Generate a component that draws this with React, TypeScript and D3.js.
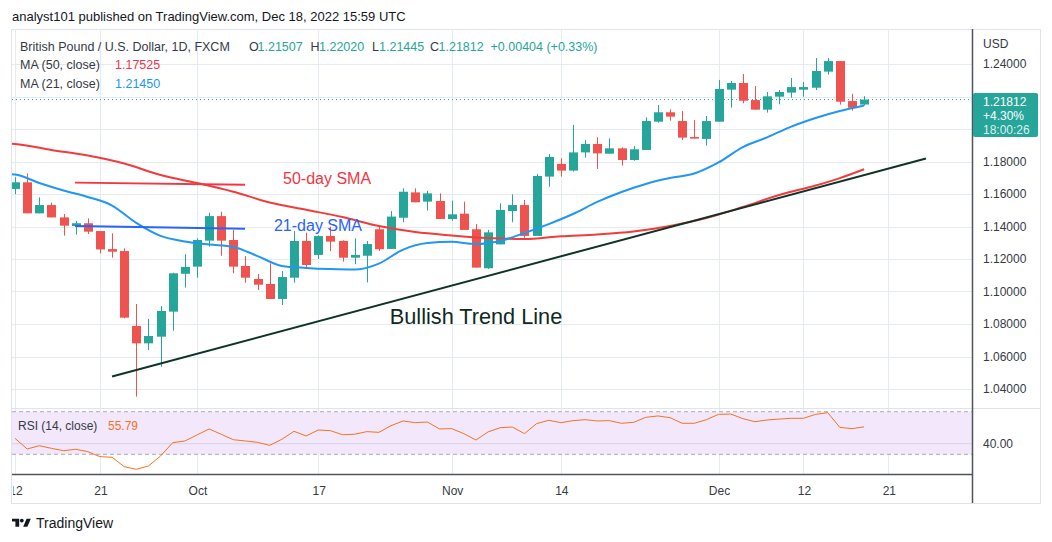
import * as d3 from "d3";

const W = 1052;
const H = 542;

// daily GBP/USD bars, Sep 12 .. Dec 19 (index 0..70)
const opens = [
  1.1631, 1.1672, 1.1481, 1.1532, 1.1456, 1.1403, 1.142, 1.1372, 1.1261, 1.1249,
  1.0788, 1.0681, 1.0722, 1.0876, 1.1109, 1.1153, 1.1313, 1.1464, 1.1317, 1.1157,
  1.1077, 1.1046, 1.0954, 1.1085, 1.1311, 1.1225, 1.1342, 1.1311, 1.1208, 1.122,
  1.1383, 1.1262, 1.1454, 1.161, 1.1553, 1.1557, 1.1446, 1.1479, 1.1383, 1.1143,
  1.129, 1.1495, 1.1532, 1.1342, 1.1707, 1.1785, 1.1744, 1.1856, 1.1908, 1.1848,
  1.1881, 1.1809, 1.1871, 1.2045, 1.2103, 1.2049, 1.1951, 1.1939, 1.2045, 1.2242,
  1.2283, 1.2178, 1.2119, 1.2199, 1.2224, 1.2242, 1.2254, 1.2353, 1.2418, 1.2172,
  1.21507,
];
const highs = [
  1.1703, 1.1727, 1.1579, 1.1547, 1.1477, 1.1434, 1.145, 1.1372, 1.1358, 1.1266,
  1.0923, 1.0831, 1.0911, 1.1115, 1.1229, 1.1327, 1.1485, 1.1491, 1.1378, 1.1218,
  1.1108, 1.1173, 1.1126, 1.1372, 1.1362, 1.1345, 1.1399, 1.1315, 1.1327, 1.1311,
  1.1403, 1.1495, 1.1635, 1.1635, 1.1619, 1.1604, 1.1559, 1.1553, 1.1415, 1.1379,
  1.1543, 1.1598, 1.1563, 1.1723, 1.1846, 1.182, 1.2025, 1.1932, 1.1949, 1.1943,
  1.1887, 1.1895, 1.2072, 1.2148, 1.2121, 1.2111, 1.2055, 1.208, 1.2302, 1.2295,
  1.2338, 1.2265, 1.2228, 1.224, 1.2314, 1.2289, 1.2437, 1.2437, 1.2418, 1.2217,
  1.2202,
];
const lows = [
  1.1598, 1.1481, 1.1481, 1.1456, 1.1344, 1.135, 1.1354, 1.1235, 1.1208, 1.0835,
  1.0353, 1.064, 1.0537, 1.0759, 1.1024, 1.1085, 1.1276, 1.122, 1.1112, 1.1054,
  1.1009, 1.0954, 1.0917, 1.1054, 1.1147, 1.12, 1.1249, 1.1184, 1.1168, 1.1056,
  1.125, 1.1262, 1.1426, 1.1549, 1.1498, 1.1446, 1.1436, 1.1379, 1.1147, 1.1139,
  1.129, 1.1426, 1.1331, 1.1342, 1.1645, 1.1707, 1.1738, 1.1824, 1.1754, 1.1848,
  1.1775, 1.1805, 1.1871, 1.2039, 1.2051, 1.1932, 1.1941, 1.1898, 1.2045, 1.2131,
  1.2158, 1.2119, 1.2101, 1.2152, 1.2193, 1.2199, 1.224, 1.2334, 1.215, 1.2113,
  1.21445,
];
const closes = [
  1.1672, 1.1481, 1.1532, 1.1456, 1.1405, 1.142, 1.1368, 1.1259, 1.1245, 1.0839,
  1.0681, 1.0726, 1.088, 1.1112, 1.1151, 1.1317, 1.1464, 1.1313, 1.1153, 1.1085,
  1.1042, 1.0954, 1.1089, 1.1311, 1.1163, 1.1341, 1.1307, 1.1208, 1.1225, 1.1292,
  1.126, 1.1461, 1.1614, 1.1549, 1.1604, 1.1446, 1.1475, 1.1379, 1.1147, 1.1364,
  1.1502, 1.1532, 1.1342, 1.1711, 1.1828, 1.1744, 1.1856, 1.1908, 1.185, 1.1881,
  1.1809, 1.1875, 1.2049, 1.2103, 1.2076, 1.1947, 1.1941, 1.2049, 1.2246, 1.2283,
  1.2174, 1.2119, 1.2201, 1.2228, 1.2258, 1.2258, 1.2357, 1.2418, 1.2168, 1.2131,
  1.21812,
];

// moving averages: [bar index, value]
const ma21: [number, number][] = [
  [-0.3, 1.1722], [0, 1.172], [2, 1.1668], [4, 1.1622], [6, 1.1582], [8, 1.1529],
  [10, 1.1422], [12, 1.1342], [14, 1.1308], [16, 1.1289], [18, 1.1274], [20, 1.1218],
  [22, 1.1157], [24, 1.1145], [26, 1.1138], [28, 1.1135], [30, 1.1172], [32, 1.1258],
  [34, 1.1298], [36, 1.1306], [38, 1.1292], [40, 1.1311], [42, 1.136], [44, 1.1415],
  [46, 1.1477], [48, 1.1551], [50, 1.1612], [52, 1.1662], [54, 1.1698], [56, 1.1726],
  [58, 1.1794], [60, 1.1889], [62, 1.1948], [64, 1.2015], [66, 1.2068], [68, 1.2111],
  [70, 1.2145],
];
const ma50: [number, number][] = [
  [-0.3, 1.191], [0, 1.1908], [3, 1.1871], [6, 1.1837], [9, 1.1788], [12, 1.1717],
  [15, 1.1668], [18, 1.1614], [21, 1.1548], [24, 1.1503], [27, 1.1458], [30, 1.1403],
  [33, 1.1366], [36, 1.1345], [39, 1.1329], [42, 1.1323], [45, 1.134], [48, 1.1351],
  [51, 1.1369], [54, 1.1403], [57, 1.1452], [60, 1.152], [63, 1.1594], [66, 1.1652],
  [68, 1.1698], [70, 1.17525],
];

const rsi = [
  45.0, 35.0, 38.1, 35.6, 33.4, 34.7, 32.5, 27.8, 27.2, 18.4,
  15.9, 19.0, 28.4, 40.9, 42.5, 48.1, 53.8, 48.8, 43.7, 42.5,
  41.2, 38.4, 44.1, 51.6, 47.2, 52.8, 52.2, 48.4, 48.8, 51.3,
  50.6, 56.9, 61.3, 59.7, 60.3, 53.8, 54.1, 49.4, 43.4, 51.0,
  55.0, 55.6, 49.4, 58.8, 61.9, 59.7, 61.6, 62.5, 61.3, 61.6,
  59.1, 60.0, 64.7, 66.0, 64.4, 59.1, 59.1, 62.5, 67.5, 67.8,
  63.5, 60.6, 62.2, 63.1, 63.8, 63.8, 67.5, 69.1, 55.3, 54.1,
  55.79,
];

const priceTicks = [1.04, 1.06, 1.08, 1.1, 1.12, 1.14, 1.16, 1.18, 1.2, 1.22, 1.24];
const timeTicks: [number, string][] = [
  [0, "12"], [7, "21"], [15, "Oct"], [25, "17"], [36, "Nov"],
  [45, "14"], [58, "Dec"], [65, "12"], [72, "21"],
];

// hand drawn annotations
const trendLine: [number, number][] = [[8, 1.0477], [75.1, 1.1818]];
const sma50Mark: [number, number][] = [[4.95, 1.167], [18.96, 1.1657]];
const sma21Mark: [number, number][] = [[4.95, 1.1403], [18.96, 1.1386]];

const FONT = "'Liberation Sans', Arial, sans-serif";
const UP = "#26a69a";
const DOWN = "#ef5350";
const TXT = "#363a45";

export default function App() {
  const L = 12, R = 972, TOP = 29, PANE = 408, AXIS = 474, BOTTOM = 503;
  const x = d3.scaleLinear().domain([0, 70]).range([15, 864.1]);
  const y = d3.scaleLinear().domain([1.04, 1.24]).range([389, 64]);
  const yr = d3.scaleLinear().domain([30, 70]).range([454.3, 411.7]);

  const maLine = d3
    .line<[number, number]>()
    .x((d) => x(d[0]))
    .y((d) => y(d[1]))
    .curve(d3.curveMonotoneX);
  const rsiLine = d3
    .line<number>()
    .x((_d, i) => x(i))
    .y((d) => yr(d));
  const straight = d3
    .line<[number, number]>()
    .x((d) => x(d[0]))
    .y((d) => y(d[1]));

  const last = closes[closes.length - 1];
  const bw = 9;
  // price label box hides the axis labels behind it
  const boxTop = 93, boxBottom = 137;
  const shownTicks = priceTicks.filter((p) => y(p) < boxTop - 7 || y(p) > boxBottom + 7);

  return (
    <svg
      width={W}
      height={H}
      style={{ position: "absolute", left: 0, top: 0, background: "#fff" }}
      fontFamily={FONT}
    >
      <defs>
        <clipPath id="main">
          <rect x={L} y={TOP} width={R - L} height={PANE - TOP} />
        </clipPath>
        <clipPath id="rsi">
          <rect x={L} y={PANE} width={R - L} height={AXIS - PANE} />
        </clipPath>
        <clipPath id="time">
          <rect x={L + 1} y={AXIS} width={R - L} height={BOTTOM - AXIS} />
        </clipPath>
      </defs>

      <text x={12} y={21} fontSize={13} fill="#131722">
        analyst101 published on TradingView.com, Dec 18, 2022 15:59 UTC
      </text>

      <rect x={11.5} y={TOP + 0.5} width={1029} height={BOTTOM - TOP} fill="none" stroke="#e0e3eb" />

      {/* grid */}
      <g stroke="#e6ebf2" strokeWidth={1}>
        {timeTicks.map(([i]) => (
          <line key={"v" + i} x1={Math.round(x(i)) + 0.5} x2={Math.round(x(i)) + 0.5} y1={TOP} y2={AXIS} />
        ))}
        {priceTicks.map((p) => (
          <line key={"h" + p} x1={L} x2={R} y1={Math.round(y(p)) + 0.5} y2={Math.round(y(p)) + 0.5} />
        ))}
      </g>

      {/* RSI pane */}
      <g clipPath="url(#rsi)">
        <rect x={L} y={yr(70)} width={R - L} height={yr(30) - yr(70)} fill="#f2e7fb" />
        <line x1={L} x2={R} y1={yr(40)} y2={yr(40)} stroke="#d8d3e6" />
        <line x1={L} x2={R} y1={yr(70)} y2={yr(70)} stroke="#9598a1" strokeDasharray="4,3" strokeWidth={0.8} />
        <line x1={L} x2={R} y1={yr(30)} y2={yr(30)} stroke="#9598a1" strokeDasharray="4,3" strokeWidth={0.8} />
        <path d={rsiLine(rsi) || ""} fill="none" stroke="#f7731e" strokeWidth={1} />
      </g>
      <text x={18} y={426} fontSize={12} fill={TXT} dominantBaseline="central">
        RSI (14, close)
      </text>
      <text x={108} y={426} fontSize={12} fill="#f7731e" dominantBaseline="central">
        55.79
      </text>

      {/* main pane */}
      <g clipPath="url(#main)">
        <line x1={L} x2={R} y1={y(last)} y2={y(last)} stroke={UP} strokeDasharray="1,3" />
        {closes.map((c, i) => {
          const o = opens[i];
          const col = c >= o ? UP : DOWN;
          const cx = Math.round(x(i)) + 0.5;
          const top = y(Math.max(o, c));
          const h = Math.max(1, Math.abs(y(o) - y(c)));
          return (
            <g key={i}>
              <line x1={cx} x2={cx} y1={y(highs[i])} y2={y(lows[i])} stroke={col} />
              <rect x={cx - bw / 2} y={top} width={bw} height={h} fill={col} />
            </g>
          );
        })}
        <path d={maLine(ma50) || ""} fill="none" stroke="#f23b3b" strokeWidth={2} />
        <path d={maLine(ma21) || ""} fill="none" stroke="#2196f3" strokeWidth={2} />
        <path d={straight(sma50Mark) || ""} stroke="#f23645" strokeWidth={2} />
        <path d={straight(sma21Mark) || ""} stroke="#2962ff" strokeWidth={2} />
        <path d={straight(trendLine) || ""} stroke="#0e3327" strokeWidth={2} />
      </g>

      <text x={x(22.1)} y={y(1.1698)} fontSize={16} fill="#f23645" dominantBaseline="central">
        50-day SMA
      </text>
      <text x={x(21.35)} y={y(1.1409)} fontSize={16} fill="#2962ff" dominantBaseline="central">
        21-day SMA
      </text>
      <text x={x(30.9)} y={y(1.0849)} fontSize={21.7} fill="#0e2a20" dominantBaseline="central">
        Bullish Trend Line
      </text>

      {/* legend */}
      <g fontSize={12.5} dominantBaseline="central">
        <text x={20} y={46.5} fill={TXT}>British Pound / U.S. Dollar, 1D, FXCM</text>
        <text x={249} y={46.5} fill={TXT}>O</text>
        <text x={257.5} y={46.5} fill={UP}>1.21507</text>
        <text x={310.5} y={46.5} fill={TXT}>H</text>
        <text x={319} y={46.5} fill={UP}>1.22020</text>
        <text x={372} y={46.5} fill={TXT}>L</text>
        <text x={379} y={46.5} fill={UP}>1.21445</text>
        <text x={430} y={46.5} fill={TXT}>C</text>
        <text x={438.5} y={46.5} fill={UP}>1.21812</text>
        <text x={490.5} y={46.5} fill={UP}>+0.00404 (+0.33%)</text>
        <text x={20} y={65.3} fill={TXT}>MA (50, close)</text>
        <text x={115} y={65.3} fill="#f23645">1.17525</text>
        <text x={20} y={84} fill={TXT}>MA (21, close)</text>
        <text x={115} y={84} fill="#2196f3">1.21450</text>
      </g>

      {/* axes */}
      <line x1={L} x2={1041} y1={PANE + 0.5} y2={PANE + 0.5} stroke="#e0e3eb" />
      <line x1={L} x2={R} y1={AXIS + 0.5} y2={AXIS + 0.5} stroke="#50535e" strokeWidth={1.5} />
      <line x1={R + 0.5} x2={R + 0.5} y1={TOP} y2={BOTTOM} stroke="#50535e" strokeWidth={1.5} />

      <g fontSize={12} fill={TXT} dominantBaseline="central">
        <text x={983} y={44}>USD</text>
        {shownTicks.map((p) => (
          <text key={p} x={983} y={y(p)}>
            {p.toFixed(5)}
          </text>
        ))}
        <text x={983} y={yr(40)}>40.00</text>
      </g>

      <rect x={973} y={boxTop} width={65} height={boxBottom - boxTop} rx={2} fill={UP} />
      <g fontSize={12} fill="#fff" dominantBaseline="central">
        <text x={983} y={102}>{last.toFixed(5)}</text>
        <text x={983} y={116}>+4.30%</text>
        <text x={983} y={130} fillOpacity={0.85}>18:00:26</text>
      </g>

      <g clipPath="url(#time)" fontSize={12} fill={TXT} textAnchor="middle" dominantBaseline="central">
        {timeTicks.map(([i, label]) => (
          <text key={"t" + i} x={x(i) + 1} y={490.5}>
            {label}
          </text>
        ))}
      </g>

      {/* TradingView logo */}
      <g fill="#131722">
        <path d="M12 518.7 H19.2 V526.7 H15.4 V521.6 H12 Z" />
        <circle cx={21.8} cy={520.6} r={1.9} />
        <path d="M26.6 518.7 H30.8 L27.4 526.7 H23.2 Z" />
      </g>
      <text x={36} y={523} fontSize={14} fill="#131722" dominantBaseline="central">
        TradingView
      </text>
    </svg>
  );
}
